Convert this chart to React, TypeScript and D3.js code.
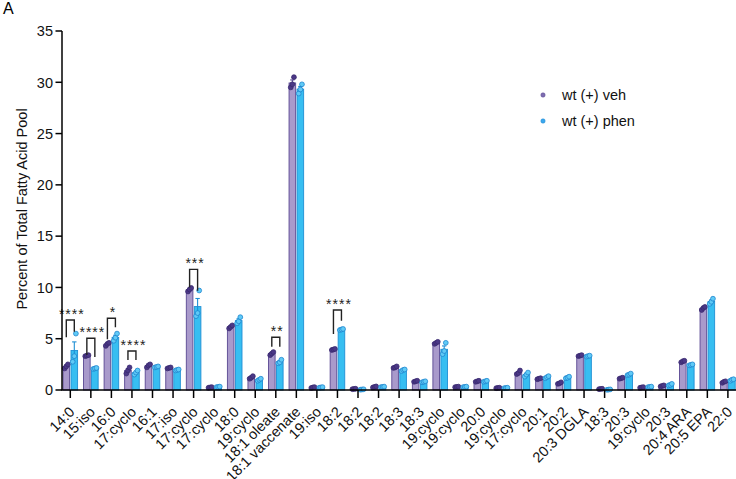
import React from "react";
import * as d3 from "d3";

const categories = [
  "14:0", "15:iso", "16:0", "17:cyclo", "16:1", "17:iso", "17:cyclo", "17:cyclo",
  "18:0", "19:cyclo", "18:1 oleate", "18:1 vaccenate", "19:iso", "18:2", "18:2", "18:2",
  "18:3", "18:3", "19:cyclo", "19:cyclo", "20:0", "19:cyclo", "17:cyclo", "20:1",
  "20:2", "20:3 DGLA", "18:3", "20:3", "19:cyclo", "20:3", "20:4 ARA", "20:5 EPA", "22:0",
];

// replicate values (3 per group)
const vehReps: number[][] = [
  [2.1, 2.3, 2.5], [3.3, 3.35, 3.4], [4.3, 4.5, 4.6], [1.6, 1.9, 2.2],
  [2.2, 2.4, 2.5], [2.1, 2.15, 2.2], [9.6, 9.8, 9.95], [0.22, 0.25, 0.28],
  [6.0, 6.15, 6.3], [1.1, 1.2, 1.35], [3.4, 3.55, 3.7], [29.5, 29.8, 30.5],
  [0.2, 0.25, 0.28], [3.9, 3.95, 4.0], [0.08, 0.1, 0.12], [0.25, 0.3, 0.35],
  [2.15, 2.2, 2.3], [0.8, 0.85, 0.9], [4.5, 4.6, 4.7], [0.28, 0.3, 0.33],
  [0.8, 0.85, 0.9], [0.18, 0.2, 0.22], [1.55, 1.65, 1.9], [1.05, 1.1, 1.15],
  [0.6, 0.65, 0.75], [3.3, 3.35, 3.4], [0.08, 0.1, 0.12], [1.1, 1.15, 1.2],
  [0.22, 0.25, 0.28], [0.35, 0.4, 0.45], [2.7, 2.8, 2.85], [7.8, 8.0, 8.1],
  [0.7, 0.8, 0.85],
];

const phenReps: number[][] = [
  [2.75, 3.3, 5.5], [2.05, 2.1, 2.15], [4.8, 5.1, 5.5], [1.5, 1.7, 1.9],
  [2.2, 2.25, 2.3], [1.9, 1.95, 2.0], [7.2, 7.5, 9.7], [0.28, 0.3, 0.33],
  [6.5, 6.7, 7.1], [0.9, 1.0, 1.1], [2.6, 2.7, 2.95], [28.9, 29.3, 29.8],
  [0.22, 0.25, 0.28], [5.85, 5.9, 5.95], [0.03, 0.05, 0.07], [0.28, 0.3, 0.33],
  [1.85, 1.95, 2.0], [0.75, 0.8, 0.85], [3.5, 3.8, 4.6], [0.28, 0.3, 0.33],
  [0.8, 0.85, 0.9], [0.18, 0.2, 0.22], [1.3, 1.5, 1.7], [1.15, 1.25, 1.35],
  [1.15, 1.2, 1.3], [3.25, 3.3, 3.35], [0.02, 0.04, 0.06], [1.45, 1.5, 1.6],
  [0.28, 0.3, 0.33], [0.45, 0.5, 0.6], [2.4, 2.45, 2.5], [8.4, 8.6, 8.9],
  [0.9, 1.0, 1.05],
];

// significance brackets: category index, label, top value, left leg end, right leg end
const sigIndex = [0, 1, 2, 3, 6, 10, 13];
const sigLabel = ["****", "****", "*", "****", "***", "**", "****"];
const sigTop = [6.82, 5.04, 6.99, 3.8, 11.76, 5.14, 7.8];
const sigLeft = [5.14, 3.41, 4.94, 2.92, 10.0, 4.22, 5.46];
const sigRight = [5.68, 3.22, 6.11, 2.92, 9.68, 4.22, 6.75];

const yTicks = [0, 5, 10, 15, 20, 25, 30, 35];
const seriesNames = ["wt (+) veh", "wt (+) phen"];

const W = 736;
const H = 479;
const FONT = "'Liberation Sans', Arial, Helvetica, sans-serif";

const PURPLE_FILL = "#a99acb";
const PURPLE_STROKE = "#5a4892";
const PURPLE_PT = "#4b3886";
const BLUE_FILL = "#37bef1";
const BLUE_STROKE = "#1f8fd4";
const BLUE_PT = "#5fcaf6";

export default function App() {
  const step = 20.55;
  const x = d3
    .scaleBand<number>()
    .domain(categories.map((_, i) => i))
    .range([70.3 - step / 2, 70.3 - step / 2 + step * categories.length])
    .padding(0);
  const y = d3.scaleLinear().domain([0, 35]).range([390, 31]);
  const cx = (i: number) => (x(i) as number) + x.bandwidth() / 2;

  const barW = 6.6;
  const series = [
    { reps: vehReps, off: -7.3, fill: PURPLE_FILL, stroke: PURPLE_STROKE, pt: PURPLE_PT, ptStroke: "#3a2a70" },
    { reps: phenReps, off: 0.7, fill: BLUE_FILL, stroke: BLUE_STROKE, pt: BLUE_PT, ptStroke: "#1f86cf" },
  ];
  const jitter = [-1.6, 0, 1.6];

  return (
    <svg width={W} height={H} style={{ display: "block", position: "absolute", left: 0, top: 0 }} fontFamily={FONT}>
      <rect width={W} height={H} fill="#fff" />
      <text x={3} y={14} fontSize={16}>A</text>

      {/* bars, error bars, points */}
      {series.map((s, si) =>
        s.reps.map((r, i) => {
          const m = d3.mean(r) as number;
          const sem = (d3.deviation(r) as number) / Math.sqrt(r.length);
          const bx = cx(i) + s.off;
          const mid = bx + barW / 2;
          return (
            <g key={`${si}-${i}`}>
              <rect x={bx} y={y(m)} width={barW} height={Math.max(0.5, y(0) - y(m))} fill={s.fill} stroke={s.stroke} strokeWidth={0.9} />
              <line x1={mid} x2={mid} y1={y(m + sem)} y2={y(Math.max(0, m - sem))} stroke={s.stroke} strokeWidth={1.1} />
              <line x1={mid - 2.2} x2={mid + 2.2} y1={y(m + sem)} y2={y(m + sem)} stroke={s.stroke} strokeWidth={1.1} />
              {r.map((v, k) => (
                <circle key={k} cx={mid + jitter[k]} cy={y(v)} r={2.4} fill={s.pt} stroke={s.ptStroke} strokeWidth={0.8} />
              ))}
            </g>
          );
        })
      )}

      {/* significance brackets */}
      {sigIndex.map((ci, k) => {
        const xl = cx(ci) + series[0].off + barW / 2;
        const xr = cx(ci) + series[1].off + barW / 2;
        const yt = y(sigTop[k]);
        return (
          <g key={`sig-${k}`}>
            <path
              d={`M${xl},${y(sigLeft[k])}V${yt}H${xr}V${y(sigRight[k])}`}
              fill="none"
              stroke="#222"
              strokeWidth={1.4}
            />
            <text x={(xl + xr) / 2 + 1.5} y={yt - 1} fontSize={14} textAnchor="middle" letterSpacing={1} fill="#222">
              {sigLabel[k]}
            </text>
          </g>
        );
      })}

      {/* y axis */}
      <line x1={62} x2={62} y1={y(35)} y2={y(0)} stroke="#000" strokeWidth={1.5} />
      {yTicks.map((t) => (
        <g key={`yt-${t}`}>
          <line x1={55.5} x2={62} y1={y(t)} y2={y(t)} stroke="#000" strokeWidth={1.5} />
          <text x={53} y={y(t)} dy="0.36em" fontSize={14.5} textAnchor="end" fill="#111">
            {t}
          </text>
        </g>
      ))}
      <text
        transform={`translate(22,209) rotate(-90)`}
        fontSize={14.5}
        textAnchor="middle"
        dy="0.36em"
        fill="#111"
      >
        Percent of Total Fatty Acid Pool
      </text>

      {/* x axis */}
      <line x1={61.25} x2={W} y1={y(0)} y2={y(0)} stroke="#000" strokeWidth={1.5} />
      {categories.map((c, i) => (
        <g key={`xt-${i}`}>
          <line x1={cx(i)} x2={cx(i)} y1={y(0)} y2={y(0) + 8} stroke="#000" strokeWidth={1.5} />
          <text
            transform={`translate(${cx(i) + 1.5},${y(0) + 19}) rotate(-45)`}
            fontSize={14.5}
            textAnchor="end"
            dy="0.36em"
            fill="#111"
          >
            {c}
          </text>
        </g>
      ))}

      {/* legend */}
      {seriesNames.map((n, k) => (
        <g key={`lg-${k}`}>
          <circle cx={543} cy={95 + k * 26} r={2.2} fill={k === 0 ? "#7d6db0" : "#3aa8ee"} stroke={k === 0 ? "#5a4892" : "#1f86cf"} strokeWidth={0.5} />
          <text x={562} y={95 + k * 26} dy="0.36em" fontSize={14.5} fill="#111">
            {n}
          </text>
        </g>
      ))}
    </svg>
  );
}
